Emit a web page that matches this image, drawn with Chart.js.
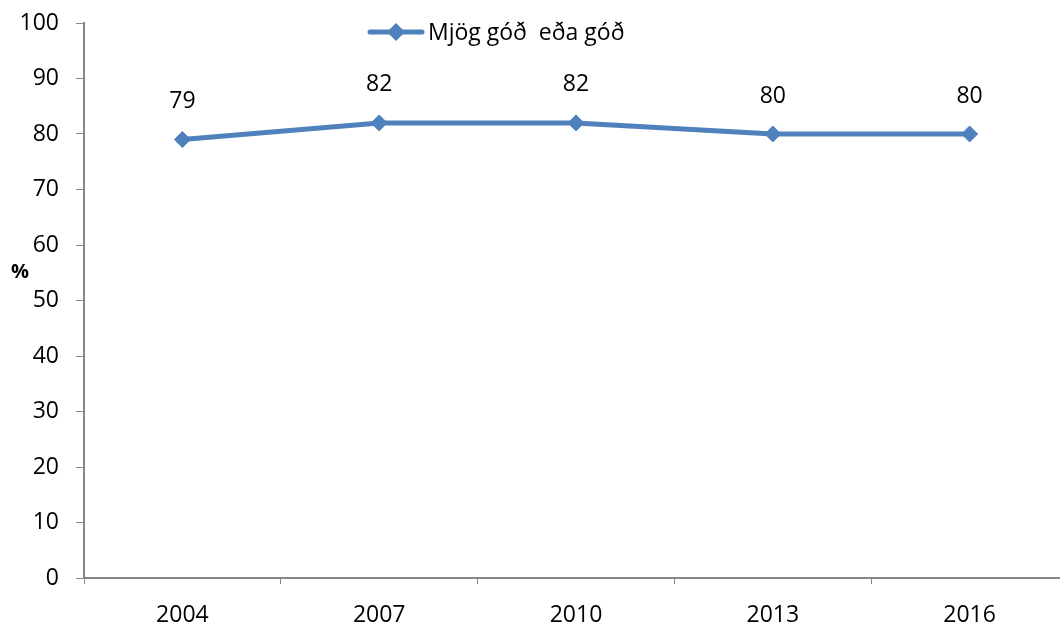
<!DOCTYPE html>
<html><head><meta charset="utf-8">
<script src="https://cdn.jsdelivr.net/npm/chart.js@4"></script>
<style>html,body{margin:0;padding:0;overflow:hidden;background:#fff}#wrap{width:1080px;height:624px;position:relative}</style>
</head><body><div id="wrap"><canvas id="c"></canvas></div>
<script>
const categories = ['2004', '2007', '2010', '2013', '2016'];
const values = [79, 82, 82, 80, 80];
const seriesName = 'Mjög góð  eða góð';
const yMin = 0, yMax = 100, yStep = 10;
const yTitle = '%';

const FONT = '"Open Sans", "Liberation Sans", sans-serif';
const BLUE = '#4F81BD';
const AXIS = '#868686';

const extras = {
  id: 'extras',
  afterDatasetsDraw(chart) {
    const ctx = chart.ctx;
    const meta = chart.getDatasetMeta(0);
    ctx.save();
    ctx.fillStyle = '#000';
    ctx.font = '23px ' + FONT;
    ctx.textAlign = 'center';
    ctx.textBaseline = 'middle';
    meta.data.forEach((pt, i) => ctx.fillText(String(values[i]), pt.x, pt.y - 38));
    // y title
    ctx.font = 'bold 20px ' + FONT;
    ctx.fillText(yTitle, 20, 272);
    // legend
    ctx.strokeStyle = BLUE; ctx.lineWidth = 5; ctx.lineCap = 'round';
    ctx.beginPath(); ctx.moveTo(370, 32); ctx.lineTo(422, 32); ctx.stroke();
    ctx.fillStyle = BLUE;
    ctx.beginPath(); ctx.moveTo(396, 23); ctx.lineTo(405, 32); ctx.lineTo(396, 41); ctx.lineTo(387, 32); ctx.closePath(); ctx.fill();
    ctx.fillStyle = '#000';
    ctx.font = '23px ' + FONT;
    ctx.textAlign = 'left';
    ctx.fillText(seriesName, 428, 33);
    ctx.restore();
  }
};

new Chart(document.getElementById('c'), {
  type: 'line',
  data: {
    labels: categories,
    datasets: [{
      label: seriesName,
      data: values,
      borderColor: BLUE,
      backgroundColor: BLUE,
      borderWidth: 5,
      tension: 0,
      pointStyle: 'rectRot',
      pointRadius: 8,
      pointBorderWidth: 1,
      pointBackgroundColor: BLUE,
      pointBorderColor: BLUE
    }]
  },
  options: {
    responsive: true,
    maintainAspectRatio: false,
    animation: false,
    layout: { padding: { top: 23, right: 12, left: 0, bottom: 0 } },
    plugins: { legend: { display: false }, tooltip: { enabled: false } },
    scales: {
      x: {
        offset: true,
        grid: { display: true, drawOnChartArea: false, drawTicks: true, tickLength: 6, color: AXIS, offset: true },
        border: { display: true, color: AXIS, width: 2 },
        ticks: { color: '#000', font: { family: FONT, size: 23 }, padding: 18, maxRotation: 0 },
        afterFit(s) { s.height = 46; s.paddingLeft = 0; s.paddingRight = 0; }
      },
      y: {
        min: yMin, max: yMax,
        grid: { display: true, drawOnChartArea: false, drawTicks: true, tickLength: 8, color: AXIS },
        border: { display: true, color: AXIS, width: 2 },
        ticks: { stepSize: yStep, color: '#000', font: { family: FONT, size: 23 }, padding: 17 },
        afterFit(s) { s.width = 84; s.paddingTop = 0; s.paddingBottom = 0; }
      }
    }
  },
  plugins: [extras]
});
</script>
</body></html>
